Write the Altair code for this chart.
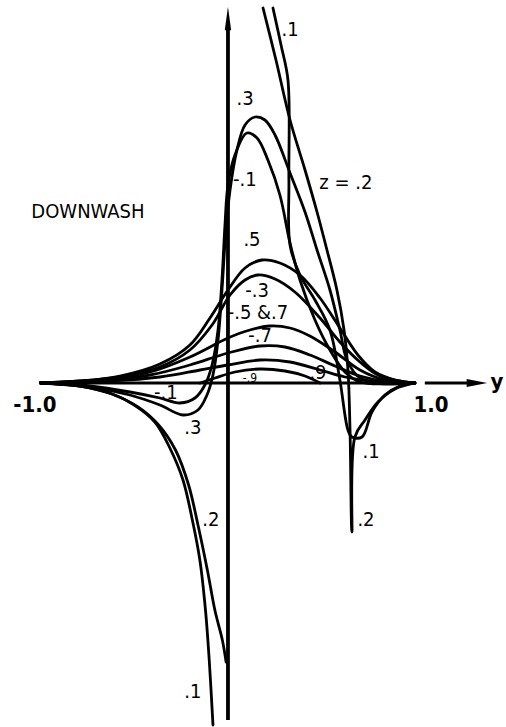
import altair as alt
import pandas as pd

# Spanwise station y (tips at +/-1) and downwash w for each height z.
# Curves with a singular region are split into a left and right branch.
Y_Z01_L = [-1.00, -0.79, -0.63, -0.50, -0.39, -0.31, -0.24, -0.19, -0.15, -0.12, -0.10, -0.08]
W_Z01_L = [0.00, -0.03, -0.10, -0.22, -0.39, -0.65, -0.97, -1.37, -1.77, -2.27, -2.77, -3.42]

Y_Z02_L = [-1.00, -0.79, -0.62, -0.48, -0.37, -0.28, -0.21, -0.16, -0.11, -0.07, -0.03, -0.01]
W_Z02_L = [0.00, -0.03, -0.11, -0.24, -0.42, -0.67, -1.02, -1.42, -1.87, -2.27, -2.57, -2.79]

Y_Z01_R = [0.24, 0.283, 0.32, 0.325, 0.331, 0.384, 0.464, 0.544, 0.597, 0.64, 0.661, 0.715, 0.768, 0.837, 0.917, 0.997]
W_Z01_R = [3.75, 3.38, 3.03, 2.03, 1.38, 1.08, 0.83, 0.53, 0.03, -0.47, -0.54, -0.54, -0.29, -0.12, -0.03, 0.00]

Y_Z02_R = [0.187, 0.256, 0.331, 0.411, 0.475, 0.528, 0.581, 0.619, 0.64, 0.651, 0.661, 0.677, 0.731, 0.80, 0.891, 0.997]
W_Z02_R = [3.75, 3.23, 2.63, 2.13, 1.71, 1.33, 0.93, 0.53, 0.13, -0.47, -1.49, -0.54, -0.37, -0.19, -0.06, 0.00]

Y_Z03 = [-1.00, -0.736, -0.523, -0.363, -0.24, -0.16, -0.112, -0.08, -0.053, -0.032, -0.011, 0.011, 0.048,
         0.091, 0.144, 0.197, 0.251, 0.331, 0.411, 0.475, 0.544, 0.597, 0.635, 0.704, 0.837, 0.997]
W_Z03 = [0.00, -0.04, -0.12, -0.22, -0.32, -0.27, -0.12, 0.08, 0.43, 0.93, 1.53, 1.93, 2.33,
         2.58, 2.66, 2.63, 2.48, 2.10, 1.71, 1.33, 0.93, 0.53, 0.23, 0.05, 0.00, 0.00]

Y_ZM01 = [-1.00, -0.736, -0.523, -0.363, -0.256, -0.176, -0.123, -0.085, -0.053, -0.032, -0.016, 0.0, 0.037,
          0.101, 0.155, 0.213, 0.277, 0.331, 0.384, 0.464, 0.544, 0.624, 0.704, 0.837, 0.997]
W_ZM01 = [0.00, -0.03, -0.09, -0.15, -0.20, -0.15, -0.02, 0.18, 0.53, 1.03, 1.58, 1.98, 2.28,
          2.50, 2.45, 2.23, 1.88, 1.40, 1.03, 0.63, 0.33, 0.11, 0.01, -0.01, 0.00]

Y_Z05 = [-1.00, -0.789, -0.576, -0.363, -0.203, -0.096, 0.0, 0.091, 0.181, 0.277, 0.384, 0.491, 0.597, 0.693, 0.784, 0.891, 0.997]
W_Z05 = [0.00, 0.02, 0.07, 0.19, 0.38, 0.65, 0.93, 1.15, 1.23, 1.20, 1.08, 0.85, 0.55, 0.28, 0.11, 0.03, 0.00]

Y_ZM03 = [-1.00, -0.789, -0.576, -0.363, -0.203, -0.085, 0.011, 0.091, 0.16, 0.251, 0.357, 0.491, 0.597, 0.704, 0.811, 0.997]
W_ZM03 = [0.00, 0.02, 0.06, 0.16, 0.33, 0.58, 0.88, 1.03, 1.08, 1.04, 0.91, 0.65, 0.41, 0.21, 0.07, 0.00]

Y_ZM05 = [-1.00, -0.683, -0.416, -0.203, 0.0, 0.117, 0.224, 0.331, 0.437, 0.571, 0.704, 0.837, 0.997]
W_ZM05 = [0.00, 0.03, 0.11, 0.26, 0.45, 0.53, 0.57, 0.55, 0.47, 0.31, 0.13, 0.03, 0.00]

Y_ZM07 = [-1.00, -0.683, -0.416, -0.203, 0.0, 0.171, 0.304, 0.437, 0.571, 0.704, 0.864, 0.997]
W_ZM07 = [0.00, 0.02, 0.08, 0.18, 0.30, 0.37, 0.36, 0.28, 0.17, 0.07, 0.01, 0.00]

Y_Z09 = [-1.00, -0.629, -0.363, -0.149, 0.0, 0.171, 0.331, 0.491, 0.624, 0.811, 0.997]
W_Z09 = [0.00, 0.02, 0.06, 0.13, 0.18, 0.23, 0.21, 0.13, 0.06, 0.01, 0.00]

Y_ZM09 = [-0.149, -0.069, 0.037, 0.171, 0.304, 0.411, 0.491]
W_ZM09 = [0.00, 0.05, 0.11, 0.14, 0.12, 0.07, 0.00]

CURVES = {
    "z=.1 left": (Y_Z01_L, W_Z01_L),
    "z=.2 left": (Y_Z02_L, W_Z02_L),
    "z=.1 right": (Y_Z01_R, W_Z01_R),
    "z=.2 right": (Y_Z02_R, W_Z02_R),
    "z=.3": (Y_Z03, W_Z03),
    "z=-.1": (Y_ZM01, W_ZM01),
    "z=.5": (Y_Z05, W_Z05),
    "z=-.3": (Y_ZM03, W_ZM03),
    "z=-.5, .7": (Y_ZM05, W_ZM05),
    "z=-.7": (Y_ZM07, W_ZM07),
    "z=.9": (Y_Z09, W_Z09),
    "z=-.9": (Y_ZM09, W_ZM09),
}

# Curve labels
LABEL_TEXT = [".1", ".3", "-.1", ".5", "-.3", "-.5 &.7", "-.7", ".9", "-.1", ".3", ".2", ".1", ".1", ".2", "z = .2", "DOWNWASH"]
LABEL_Y = [0.331, 0.091, 0.09, 0.128, 0.155, 0.16, 0.171, 0.48, -0.331, -0.187, -0.091, -0.187, 0.763, 0.736, 0.629, -0.747]
LABEL_W = [3.53, 2.84, 2.03, 1.43, 0.92, 0.70, 0.47, 0.10, -0.10, -0.45, -1.37, -3.09, -0.69, -1.37, 2.00, 1.71]

SMALL_TEXT = ["-.9"]
SMALL_Y = [0.117]
SMALL_W = [0.05]

TICK_TEXT = ["-1.0", "1.0", "y"]
TICK_Y = [-1.03, 1.083, 1.435]
TICK_W = [-0.22, -0.22, 0.01]

X_DOMAIN = [-1.216, 1.483]
W_DOMAIN = [-3.44, 3.83]
FONT = "DejaVu Sans Condensed, Liberation Sans Narrow, Arial Narrow, sans-serif"

rows = []
for name, (ys, ws) in CURVES.items():
    for i, (yy, ww) in enumerate(zip(ys, ws)):
        rows.append({"curve": name, "y": yy, "w": ww, "i": i})
curves_df = pd.DataFrame(rows)

xs = alt.Scale(domain=X_DOMAIN, nice=False, zero=False)
ys_ = alt.Scale(domain=W_DOMAIN, nice=False, zero=False)


def X(field="y"):
    return alt.X(f"{field}:Q", scale=xs, axis=None)


def Y(field="w"):
    return alt.Y(f"{field}:Q", scale=ys_, axis=None)


lines = alt.Chart(curves_df).mark_line(
    color="black", strokeWidth=2.8, interpolate="catmull-rom", strokeCap="round", strokeJoin="round"
).encode(x=X(), y=Y(), detail="curve:N", order="i:Q")

# Coordinate axes drawn as arrows
vaxis_df = pd.DataFrame({"y": [0.0], "w": [-3.37], "w2": [3.62]})
vaxis = alt.Chart(vaxis_df).mark_rule(color="black", strokeWidth=3.8).encode(
    x=X(), y=Y(), y2="w2:Q"
)
haxis_df = pd.DataFrame({"y": [-1.0, 1.05], "y2": [0.985, 1.30], "w": [0.0, 0.0]})
haxis = alt.Chart(haxis_df).mark_rule(color="black", strokeWidth=3.0).encode(
    x=X(), x2="y2:Q", y=Y()
)
up_head = alt.Chart(pd.DataFrame({"y": [0.0], "w": [3.645]})).mark_point(
    shape="M0,-1L0.27,1L-0.27,1Z", filled=True, color="black", opacity=1, size=560
).encode(x=X(), y=Y())
right_head = alt.Chart(pd.DataFrame({"y": [1.328], "w": [0.0]})).mark_point(
    shape="M1,0L-1,-0.38L-1,0.38Z", filled=True, color="black", opacity=1, size=420
).encode(x=X(), y=Y())

labels = alt.Chart(pd.DataFrame({"t": LABEL_TEXT, "y": LABEL_Y, "w": LABEL_W})).mark_text(
    font=FONT, fontSize=20, color="black", align="center", baseline="middle"
).encode(x=X(), y=Y(), text="t:N")

small = alt.Chart(pd.DataFrame({"t": SMALL_TEXT, "y": SMALL_Y, "w": SMALL_W})).mark_text(
    font=FONT, fontSize=12, color="black", align="center", baseline="middle"
).encode(x=X(), y=Y(), text="t:N")

ticks = alt.Chart(pd.DataFrame({"t": TICK_TEXT, "y": TICK_Y, "w": TICK_W})).mark_text(
    font=FONT, fontSize=22, fontWeight="bold", color="black", align="center", baseline="middle"
).encode(x=X(), y=Y(), text="t:N")

chart = alt.layer(lines, vaxis, haxis, up_head, right_head, labels, small, ticks).properties(
    width=506, height=727, padding=0, autosize=alt.AutoSizeParams(type="none"), background="white"
).configure_view(stroke=None)

chart.save("out.html", embed_options={"renderer": "svg", "actions": False})
